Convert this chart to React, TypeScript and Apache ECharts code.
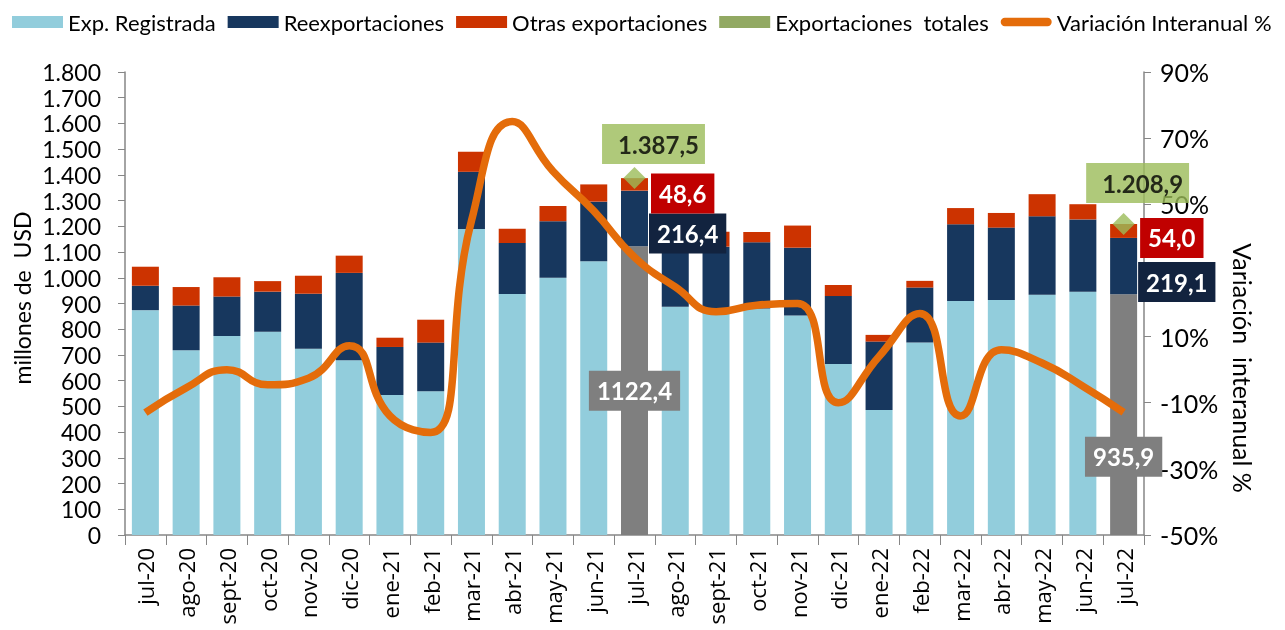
import React, { useEffect, useRef } from "react";
import * as echarts from "echarts";

const months = [
  "jul-20", "ago-20", "sept-20", "oct-20", "nov-20", "dic-20", "ene-21", "feb-21", "mar-21",
  "abr-21", "may-21", "jun-21", "jul-21", "ago-21", "sept-21", "oct-21", "nov-21", "dic-21",
  "ene-22", "feb-22", "mar-22", "abr-22", "may-22", "jun-22", "jul-22",
];
const expRegistrada = [874, 718, 774, 790, 724, 679, 544, 559, 1190, 937, 1000, 1064, 1122.4, 887, 862, 881, 853, 665, 486, 748, 910, 914, 934, 946, 935.9];
const reexportaciones = [95, 174, 153, 156, 214, 340, 187, 189, 222, 198, 220, 232, 216.4, 265, 259, 257, 264, 264, 266, 214, 298, 281, 305, 281, 219.1];
const otrasExportaciones = [74, 72, 75, 41, 70, 67, 36, 89, 78, 56, 59, 67, 48.6, 35, 58, 40, 86, 43, 26, 26, 63, 57, 86, 59, 54.0];
const exportacionesTotales = [null, null, null, null, null, null, null, null, null, null, null, null, 1387.5, null, null, null, null, null, null, null, null, null, null, null, 1208.9];
const variacion = [-13, -5.5, 0, -4.6, -2.6, 7.2, -14, -19, 45, 75, 60, 48, 34, 25, 17.5, 19.5, 20, -10, 4, 17, -14, 6, 2, -5, -12.9];
const leftTicks = [0, 1800, 100];
const rightTicks = [-50, 90, 20];
const highlighted = [12, 24];

const FONT = "Lato, 'Open Sans', sans-serif";
const C_LIGHT = "#92CDDC";
const C_NAVY = "#17375E";
const C_RED = "#CC3300";
const C_GREEN = "#9BBB59";
const C_GREEN_DARK = "#77933C";
const C_ORANGE = "#E46C0A";
const C_GRAY = "#7F7F7F";

const dec = (v: number) => v.toFixed(1).replace(".", ",");
const decThousands = (v: number) => {
  const [i, d] = v.toFixed(1).split(".");
  return i.replace(/\B(?=(\d{3})+(?!\d))/g, ".") + "," + d;
};

const boxLabel = (bg: string, color: string, extra: any) => ({
  show: true,
  backgroundColor: bg,
  color,
  fontFamily: FONT,
  fontWeight: "bold",
  fontSize: 24,
  lineHeight: 24,
  padding: [8, 8, 8, 8],
  ...extra,
});

export default function App() {
  const ref = useRef<HTMLDivElement>(null);
  useEffect(() => {
    if (!ref.current) return;
    const chart = echarts.init(ref.current, null, { renderer: "svg" });

    const expData = expRegistrada.map((v, i) =>
      highlighted.includes(i)
        ? {
            value: v,
            itemStyle: { color: C_GRAY },
            label: boxLabel(C_GRAY, "#fff", {
              position: "inside",
              offset: i === 24 ? [0, 42] : [0, 0],
              formatter: (p: any) => dec(p.value),
            }),
          }
        : v
    );
    const reexpData = reexportaciones.map((v, i) =>
      highlighted.includes(i)
        ? {
            value: v,
            label: boxLabel("#12233F", "#fff", {
              position: "right",
              distance: 1,
              offset: i === 24 ? [0, 16] : [0, 15],
              formatter: (p: any) => dec(p.value),
            }),
          }
        : v
    );
    const otrasData = otrasExportaciones.map((v, i) =>
      highlighted.includes(i)
        ? {
            value: v,
            label: boxLabel("#C00000", "#fff", {
              position: "right",
              distance: 3,
              offset: i === 24 ? [0, 7] : [0, 9],
              formatter: (p: any) => dec(p.value),
            }),
          }
        : v
    );
    const totalData = exportacionesTotales.map((v, i) =>
      v == null
        ? "-"
        : {
            value: v,
            label: boxLabel(C_GREEN, "#000", {
              position: "top",
              distance: i === 24 ? 10 : 3,
              offset: i === 24 ? [14, 0] : [19, 0],
              padding: [8, 6, 8, 16],
              formatter: (p: any) => decThousands(p.value),
            }),
          }
    );
    const lineData = variacion.map((v, i) =>
      i === variacion.length - 1
        ? {
            value: v,
            label: boxLabel(C_ORANGE, "#fff", {
              position: "top",
              distance: 15,
              offset: [29, 0],
              formatter: (p: any) => dec(p.value) + "%",
            }),
          }
        : v
    );

    const barW = 27;
    chart.setOption({
      animation: false,
      textStyle: { fontFamily: FONT },
      legend: {
        left: 12,
        top: 11,
        width: 1273,
        padding: 0,
        itemWidth: 51,
        itemHeight: 12,
        itemGap: 12,
        textStyle: { fontFamily: FONT, fontSize: 22, color: "#000" },
        data: [
          { name: "Exp. Registrada", icon: "rect" },
          { name: "Reexportaciones", icon: "rect" },
          { name: "Otras exportaciones", icon: "rect" },
          { name: "Exportaciones  totales", icon: "rect", itemStyle: { color: C_GREEN_DARK } },
          {
            name: "Variación Interanual %",
            icon: "path://M6,2 L47,2 A4,4 0 0 1 47,10 L6,10 A4,4 0 0 1 6,2 Z",
            itemStyle: { color: C_ORANGE, borderWidth: 0 },
          },
        ],
      },
      grid: { left: 125, right: 141, top: 72, bottom: 95 },
      xAxis: {
        type: "category",
        data: months,
        axisLine: { lineStyle: { color: "#868686", width: 1.5 } },
        axisTick: { show: true, length: 10, lineStyle: { color: "#868686" } },
        axisLabel: {
          rotate: 90,
          interval: 0,
          margin: 13,
          fontSize: 22,
          color: "#000",
          fontFamily: "'Open Sans', 'DejaVu Sans', sans-serif",
        },
      },
      yAxis: [
        {
          type: "value",
          min: leftTicks[0],
          max: leftTicks[1],
          interval: leftTicks[2],
          axisLine: { show: true, lineStyle: { color: "#868686", width: 1.5 } },
          axisTick: { show: true, length: 7, lineStyle: { color: "#868686" } },
          splitLine: { show: false },
          axisLabel: {
            margin: 24,
            fontSize: 23,
            lineHeight: 22,
            color: "#000",
            fontFamily: FONT,
            formatter: (v: number) => String(v).replace(/\B(?=(\d{3})+(?!\d))/g, "."),
          },
        },
        {
          type: "value",
          min: rightTicks[0],
          max: rightTicks[1],
          interval: rightTicks[2],
          position: "right",
          axisLine: { show: true, lineStyle: { color: "#868686", width: 1.5 } },
          axisTick: { show: true, length: 7, lineStyle: { color: "#868686" } },
          splitLine: { show: false },
          axisLabel: {
            margin: 16,
            fontSize: 25,
            color: "#000",
            fontFamily: FONT,
            formatter: (v: number) => v + "%",
          },
        },
      ],
      series: [
        {
          name: "Exp. Registrada",
          type: "bar",
          stack: "exp",
          barWidth: barW,
          itemStyle: { color: C_LIGHT },
          data: expData,
          z: 2,
        },
        {
          name: "Reexportaciones",
          type: "bar",
          stack: "exp",
          barWidth: barW,
          itemStyle: { color: C_NAVY },
          data: reexpData,
          z: 2,
        },
        {
          name: "Otras exportaciones",
          type: "bar",
          stack: "exp",
          barWidth: barW,
          itemStyle: { color: C_RED },
          data: otrasData,
          z: 2,
        },
        {
          name: "Exportaciones  totales",
          type: "scatter",
          symbol: "diamond",
          symbolSize: 22,
          itemStyle: { color: C_GREEN },
          data: totalData,
          z: 5,
        },
        {
          name: "Variación Interanual %",
          type: "line",
          yAxisIndex: 1,
          smooth: 0.5,
          showSymbol: false,
          symbol: "none",
          lineStyle: { color: C_ORANGE, width: 7.5 },
          itemStyle: { color: C_ORANGE },
          data: lineData,
          z: 4,
        },
      ],
      graphic: [
        {
          type: "text",
          x: 22,
          y: 298,
          rotation: Math.PI / 2,
          style: {
            text: "millones de  USD",
            fontFamily: FONT,
            fontSize: 23,
            fill: "#000",
            textAlign: "center",
            textVerticalAlign: "middle",
          },
        },
        {
          type: "text",
          x: 1243,
          y: 368,
          rotation: -Math.PI / 2,
          style: {
            text: "Variación  interanual %",
            fontFamily: FONT,
            fontSize: 25,
            fill: "#000",
            textAlign: "center",
            textVerticalAlign: "middle",
          },
        },
      ],
    });
    return () => chart.dispose();
  }, []);
  return (
    <div
      ref={ref}
      style={{ position: "fixed", left: 0, top: 0, width: 1285, height: 630 }}
    />
  );
}
